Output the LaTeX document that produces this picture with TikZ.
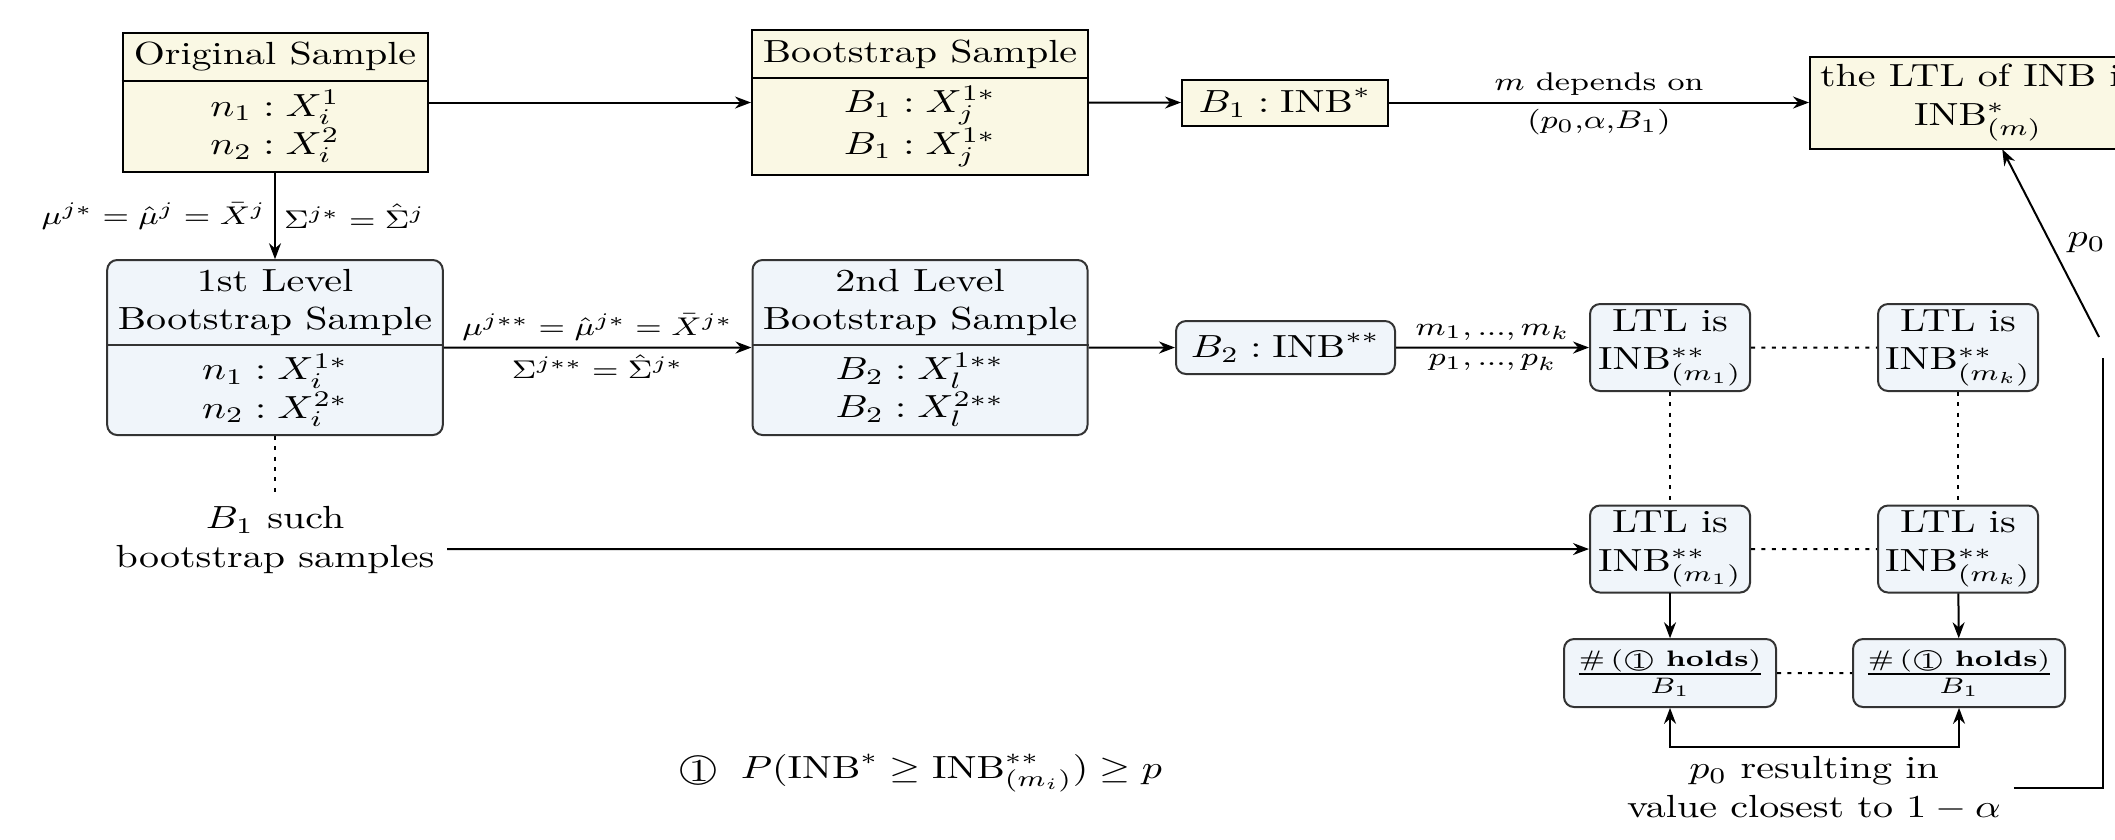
\documentclass[tikz,border=0pt]{standalone}
\usepackage{amsmath}
\usetikzlibrary{arrows.meta,calc}
\definecolor{cream}{RGB}{250,248,228}
\definecolor{paleblue}{RGB}{240,245,250}
\newcommand{\cone}{\ooalign{\hfil\raisebox{-0.2ex}{1}\hfil\cr$\bigcirc$}}
\begin{document}
\begin{tikzpicture}[x=0.25pt, y=-0.3125pt, yscale=0.8,
  every node/.append style={transform shape},
  box/.style={draw=black, line width=0.5pt, inner sep=0pt, align=center},
  creambox/.style={box, fill=cream},
  bluebox/.style={box, fill=paleblue, rounded corners=2.5pt, draw=black!80},
  txt/.style={inner sep=0pt, align=center},
  lbl/.style={font=\footnotesize, inner sep=2pt},
  dots/.style={dash pattern=on 1pt off 1.6pt, line width=0.5pt},
  conn/.style={-{Stealth[length=4pt,width=3pt]}, line width=0.5pt},
  biconn/.style={{Stealth[length=4pt,width=3pt]}-{Stealth[length=4pt,width=3pt]}, line width=0.5pt}]
\useasboundingbox (0,0) rectangle (2115,839);

% ---- top row
\node[creambox, minimum width=76.25pt, minimum height=43.44pt] (orig) at (275,102.5) {};
\node[txt] (origH) at (275,57) {Original Sample};
\node[txt] (origL) at (275,126.5) {$n_1 : X_i^1$\\$n_2 : X_i^2$};
\coordinate (origD) at (275,81);
\draw[line width=0.5pt] (orig.west |- origD) -- (orig.east |- origD);

\node[creambox, minimum width=84pt, minimum height=45.31pt] (boot) at (920,102.5) {};
\node[txt] (bootH) at (920,54) {Bootstrap Sample};
\node[txt] (bootL) at (920,126.5) {$B_1 : X_j^{1*}$\\$B_1 : X_j^{1*}$};
\coordinate (bootD) at (920,78);
\draw[line width=0.5pt] (boot.west |- bootD) -- (boot.east |- bootD);

\node[creambox, minimum width=51.5pt, minimum height=14.38pt] (b1inb) at (1285,102.5) {$B_1 : \mathrm{INB}^*$};
\node[creambox, anchor=west, inner xsep=2.5pt, minimum height=28.75pt] (ltl) at (1809,102.5) {the LTL of INB is\\INB$^*_{(m)}$};

% ---- middle row
\node[bluebox, minimum width=83.9pt, minimum height=54.69pt] (lev1) at (275,347.5) {};
\node[txt] (lev1H) at (275,302.5) {1st Level\\Bootstrap Sample};
\node[txt] (lev1L) at (275,390) {$n_1 : X_i^{1*}$\\$n_2 : X_i^{2*}$};
\coordinate (lev1D) at (275,345);
\draw[line width=0.5pt, black!80] (lev1.west |- lev1D) -- (lev1.east |- lev1D);

\node[bluebox, minimum width=83.75pt, minimum height=54.69pt] (lev2) at (920,347.5) {};
\node[txt] (lev2H) at (920,302.5) {2nd Level\\Bootstrap Sample};
\node[txt] (lev2L) at (920,390) {$B_2 : X_l^{1**}$\\$B_2 : X_l^{2**}$};
\coordinate (lev2D) at (920,345);
\draw[line width=0.5pt, black!80] (lev2.west |- lev2D) -- (lev2.east |- lev2D);

\node[bluebox, minimum width=54.75pt, minimum height=16.56pt] (b2inb) at (1285.5,347.5) {$B_2 : \mathrm{INB}^{**}$};

\node[bluebox, minimum width=40pt, minimum height=27.19pt] (ltl11) at (1670,347.5) {LTL is\\INB$^{**}_{(m_1)}$};
\node[bluebox, minimum width=40pt, minimum height=27.19pt] (ltl1k) at (1958,347.5) {LTL is\\INB$^{**}_{(m_k)}$};
\node[bluebox, minimum width=40pt, minimum height=27.19pt] (ltl21) at (1670,549) {LTL is\\INB$^{**}_{(m_1)}$};
\node[bluebox, minimum width=40pt, minimum height=27.19pt] (ltl2k) at (1958,549) {LTL is\\INB$^{**}_{(m_k)}$};

\node[bluebox, minimum width=53pt, minimum height=21.25pt] (frac1) at (1670,673) {$\frac{\#\,(\text{\cone}\text{ \textbf{holds}})}{B_1}$};
\node[bluebox, minimum width=53pt, minimum height=21.25pt] (frac2) at (1959,673) {$\frac{\#\,(\text{\cone}\text{ \textbf{holds}})}{B_1}$};

% ---- free texts
\node[txt, inner sep=3pt] (bs) at (275,540) {$B_1$ such\\bootstrap samples};
\node[txt, inner sep=3pt] (res) at (1814,788) {$p_0$ resulting in\\value closest to $1-\alpha$};
\node[txt, anchor=west] (formula) at (678,773) {\cone\hspace{5.5pt}$P(\mathrm{INB}^*\geq\mathrm{INB}^{**}_{(m_i)})\geq p$};

\coordinate (resline) at (0,747);
\coordinate (cright) at (2103,358);
\coordinate (cdiag) at (2099,337);

% ---- connectors
\draw[conn] (orig) -- (boot);
\draw[conn] (boot) -- (b1inb);
\draw[conn] (b1inb) -- node[lbl,above]{$m$ depends on} node[lbl,below]{$(p_0,\!\alpha,\!B_1)$} (ltl);
\draw[conn] (orig) -- node[lbl,left]{$\mu^{j*}=\hat{\mu}^{j}=\bar{X}^{j}$} node[lbl,right]{$\Sigma^{j*}=\hat{\Sigma}^{j}$} (lev1);
\draw[conn] (lev1) -- node[lbl,above]{$\mu^{j**}=\hat{\mu}^{j*}=\bar{X}^{j*}$} node[lbl,below]{$\Sigma^{j**}=\hat{\Sigma}^{j*}$} (lev2);
\draw[conn] (lev2) -- (b2inb);
\draw[conn] (b2inb) -- node[lbl,above]{$m_1, ..., m_k$} node[lbl,below]{$p_1, ..., p_k$} (ltl11);

\draw[dots] (ltl11) -- (ltl1k);
\draw[dots] (ltl21) -- (ltl2k);
\draw[dots] (frac1) -- (frac2);
\draw[dots] (ltl11) -- (ltl21);
\draw[dots] (ltl1k) -- (ltl2k);
\draw[dots] (lev1) -- (bs);

\draw[conn] (bs.east |- ltl21) -- (ltl21);
\draw[conn] (ltl21) -- (frac1);
\draw[conn] (ltl2k) -- (frac2);
\draw[biconn] (frac1.south) -- (frac1.south |- resline) -| (frac2.south);
\draw[line width=0.5pt] (res.east) -| (cright);
\draw[conn] (cdiag) -- node[right, inner sep=4pt]{$p_0$} (ltl);
\end{tikzpicture}
\end{document}
